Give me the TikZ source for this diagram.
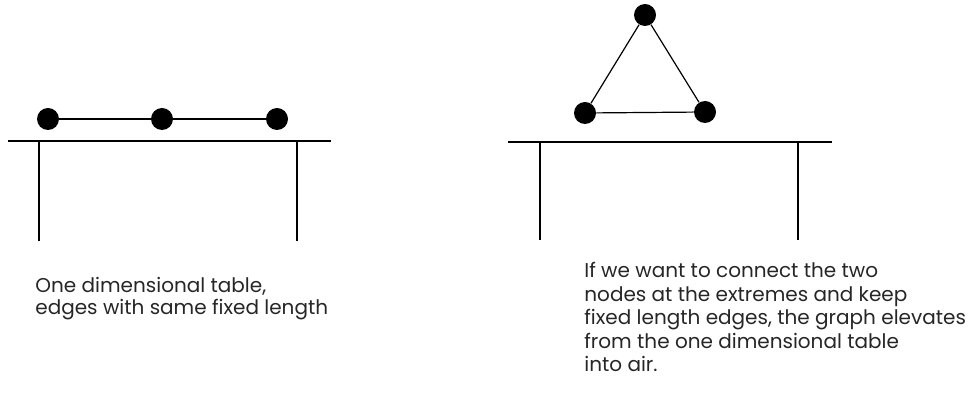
\documentclass[tikz,border=0pt]{standalone}
\usepackage{fontspec}
\setmainfont{Poppins}
\usetikzlibrary{positioning}

\tikzset{
  vertex/.style={circle, fill=black, inner sep=0pt, minimum size=11pt},
  edge/.style={line width=0.6pt},
  board/.style={line width=1pt},
  caption/.style={align=left, anchor=north west, inner sep=0pt,
    text=black!85, font=\fontsize{10}{11}\selectfont}
}

\begin{document}
\begin{tikzpicture}[x=0.5pt, y=-0.5pt]
  \useasboundingbox (0,0) rectangle (968,416);
  % left table with the three nodes in a row
  \draw[board] (8,141) -- (331,141);
  \draw[board] (39,141) -- (39,241);
  \draw[board] (297,141) -- (297,241);
  \node[vertex] (a) at (48,119) {};
  \node[vertex] (b) at (162,119) {};
  \node[vertex] (c) at (277,119) {};
  \draw[edge] (a) -- (b) -- (c);
  % right table, the graph lifted into a triangle
  \draw[board] (508,142) -- (832,142);
  \draw[board] (540,142) -- (540,240);
  \draw[board] (798,142) -- (798,240);
  \node[vertex] (top) at (645,15) {};
  \node[vertex] (bl) at (585,113) {};
  \node[vertex] (br) at (705,112) {};
  \draw[edge] (bl) -- (top) -- (br) -- (bl);
  % captions
  \node[caption] (capl) at (35,277) {One dimensional table,\\edges with same fixed length};
  \node[caption, font=\fontsize{10}{11.75}\selectfont] (capr) at (584,262)
    {If we want to connect the two\\nodes at the extremes and keep\\fixed length edges, the graph elevates\\from the one dimensional table\\into air.};
\end{tikzpicture}
\end{document}
